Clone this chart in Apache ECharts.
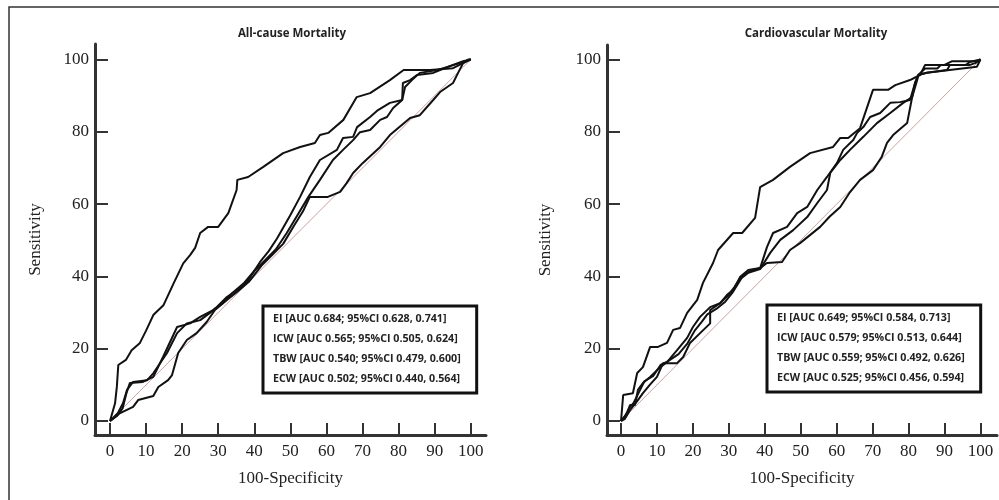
<!DOCTYPE html>
<html>
<head>
<meta charset="utf-8">
<script src="https://cdn.jsdelivr.net/npm/echarts@6/dist/echarts.min.js"></script>
<style>
  html, body { margin: 0; padding: 0; background: #fff; }
  #main { width: 999px; height: 500px; }
</style>
</head>
<body>
<div id="main"></div>
<script>
// panel titles
var panelTitles = ['All-cause Mortality', 'Cardiovascular Mortality'];
// markers, AUC and 95% CI per panel
var markers = ['EI', 'ICW', 'TBW', 'ECW'];
var aucAll = [0.684, 0.565, 0.540, 0.502];
var ciLowAll = [0.628, 0.505, 0.479, 0.440];
var ciHighAll = [0.741, 0.624, 0.600, 0.564];
var aucCv = [0.649, 0.579, 0.559, 0.525];
var ciLowCv = [0.584, 0.513, 0.492, 0.456];
var ciHighCv = [0.713, 0.644, 0.626, 0.594];
var tickValues = [0, 10, 20, 30, 40, 50, 60, 70, 80, 90, 100];
var yTickValues = [0, 20, 40, 60, 80, 100];
var diagonal = [[0, 0], [100, 100]];

// ROC points [100-Specificity, Sensitivity]
var allEI = [[0,0],[1.4,4.9],[1.9,9.5],[2.3,15.5],[4.4,16.9],[6,19.6],[8.3,21.6],[10,25],[12,29.3],[14.8,32],[17.6,38],[20.3,43.6],[22.2,45.9],[23.6,47.9],[25,52],[27.2,53.7],[30,53.7],[32.8,57.5],[35.1,63.9],[35.3,66.7],[38.3,67.5],[42.5,70.3],[48,74.1],[52.7,75.8],[56.8,76.9],[58.2,79.1],[60.5,79.7],[64.7,83.3],[68.4,89.6],[72.1,90.7],[77.6,94.3],[81.4,97.1],[88.7,97.1],[95.1,97.6],[97.9,99],[99.3,100],[100,100]];
var allICW = [[0,0],[2.2,2.2],[3.6,4.9],[4.7,8.6],[6.4,10.8],[10.3,11.3],[12,13.2],[15.8,18.8],[18.6,24.3],[21.3,27],[25,27.9],[27.7,29.9],[29.7,31.6],[32.4,34.3],[35.2,36.2],[38,38.5],[41.6,44],[44,47],[46.3,50.5],[49.9,56.8],[52.7,62],[55.4,67.5],[58.2,72.2],[62.9,75],[64.6,78.3],[67.4,78.6],[68.5,81.3],[72.1,84.1],[74.3,86],[77.6,88],[81,88.8],[81.2,93.5],[83.2,94.3],[85.1,95.7],[89.6,96.3],[91.5,97.1],[95.1,98.5],[97.9,99.5],[100,100]];
var allTBW = [[0,0],[2,1.5],[3.5,3.5],[4.5,7.5],[5.5,10.5],[9.1,10.8],[12,12.2],[14.7,17.7],[18.6,26],[22.2,27],[25,28.8],[28.6,30.7],[31.3,32.6],[34,35.5],[37,38],[40,41.5],[43,44.5],[46,47.5],[49,52],[52,57],[55,62],[58.2,66.7],[61.8,72.2],[64.6,75],[67.4,77.7],[69.3,79.9],[72.1,80.5],[74.9,83.3],[76.8,84.1],[78.5,86.6],[81,88.8],[81.8,92.4],[83.7,94.3],[85.9,96.3],[90.7,97.1],[93.4,97.9],[97,99],[100,100]];
var allECW = [[0,0],[2.8,2.2],[6.4,3.9],[7.8,5.8],[12,6.9],[13.4,9.4],[16.1,11.3],[17.2,12.7],[18.9,18.8],[21.3,22.4],[24,24.3],[26.8,27.4],[29.1,30.7],[32.4,33.5],[35.2,35.7],[38.5,38.5],[42,43],[45,46],[48,49],[51,54],[53.5,58],[55.4,62],[60.4,62],[63.8,63.4],[65.6,65.8],[67.4,68.6],[70.1,71.4],[74.9,75.8],[77.6,79.1],[83.2,83.8],[85.9,84.6],[89.6,88.8],[91.5,91],[95.1,93.5],[96.5,96.3],[97.9,99],[100,100]];

var cvEI = [[0,0],[0.2,0.3],[0.6,7.2],[3.3,7.7],[4.5,13.3],[6.1,14.9],[8.1,20.5],[10.3,20.5],[12.8,21.6],[14.5,25.2],[16.4,25.7],[18.4,29.9],[21.2,33.5],[22.8,38.2],[25.6,43.7],[27,47.3],[31.2,52],[33.7,52],[37.3,56.2],[38.7,64.7],[42.3,66.7],[47,70.3],[52.6,74.1],[59,75.8],[61,78.3],[63.2,78.3],[66.5,81],[70.1,91.6],[74.3,91.6],[76.3,92.9],[80.4,94.3],[83.2,95.7],[84.6,98.5],[90,98.5],[92,99.5],[99,99.5],[99.2,100],[100,100]];
var cvICW = [[0,0],[1.7,2.2],[2.5,4.4],[3.9,4.4],[4.7,8.6],[6.1,10.5],[8.1,12.2],[10.9,14.9],[12.8,16.3],[15.6,19.6],[18.4,23],[20,26],[22,28.8],[24.8,31.5],[27.6,32.6],[29.5,34.9],[31.2,36.2],[33.1,39.8],[35.4,41.8],[38.7,42.3],[40.6,48.1],[42.3,52],[46.2,53.7],[49,57.5],[51.8,59.2],[54.6,63.9],[57.3,67.5],[60.1,71.4],[61.8,75],[64.6,77.7],[65.7,79.7],[67.4,81.3],[69.3,84.1],[72.1,85.2],[74.9,88],[77.6,88.2],[80.4,88.8],[81.8,93.5],[82.7,95.7],[85.1,96.3],[90.7,97.1],[91.5,98.5],[97.1,98.5],[98.5,99],[100,100]];
var cvTBW = [[0,0],[1.2,1.5],[2.2,3.5],[3.5,5],[5,8],[6.5,11],[9,12.5],[11,15.5],[13,16.5],[16,18.5],[18.5,21.5],[20.5,25],[22.5,27.5],[24,29.5],[26.5,31],[29,33],[31,35.5],[33.5,39.5],[35.4,41],[38.7,42],[41.5,46.5],[44.3,50.1],[47.9,52.8],[51.8,56.4],[54.6,60.3],[57.3,63.9],[58.2,68.6],[61,72.2],[63.7,75],[67.4,78.6],[71.2,82.4],[74.9,85.2],[78.5,88],[81,89.6],[81.8,93.5],[82.7,95.7],[84.6,97.5],[88,97.5],[89,98.5],[96,98.5],[97,99.3],[100,100]];
var cvECW = [[0,0],[1,0.5],[2.5,3],[4.5,5.5],[6.1,7.7],[8,10],[10,12.2],[11.7,16],[15.6,16],[17.3,17.7],[19.2,21.6],[22,24.3],[24.8,27],[24.8,30.7],[27.6,32.6],[30,35],[31.5,37],[33.5,40],[36,41.5],[38.7,42.3],[40.6,43.7],[44.8,44],[47,47.3],[49.8,49.2],[55.4,53.7],[58,56.5],[61,59.2],[63.5,63],[66.5,66.7],[70.1,69.4],[72.5,73],[74,76.9],[75.7,79.1],[79.6,82.4],[81,89.6],[82.4,94.3],[82.7,95.7],[85,96.3],[99,98],[100,100]];

var serif = '"Liberation Serif", "DejaVu Serif", serif';
var sans = '"Open Sans", "Noto Sans", sans-serif';

function labelText(m, auc, lo, hi) {
  return m + ' [AUC ' + auc.toFixed(3) + '; 95%CI ' + lo.toFixed(3) + ', ' + hi.toFixed(3) + ']';
}

var namesAll = markers.map(function (m, i) { return labelText(m, aucAll[i], ciLowAll[i], ciHighAll[i]); });
var namesCv = markers.map(function (m, i) { return labelText(m, aucCv[i], ciLowCv[i], ciHighCv[i]); });
var curvesAll = [allEI, allICW, allTBW, allECW];
var curvesCv = [cvEI, cvICW, cvTBW, cvECW];

function makeX(idx, min, max) {
  return {
    type: 'value', gridIndex: idx, min: min, max: max,
    name: '100-Specificity', nameLocation: 'middle', nameGap: 35,
    nameTextStyle: { fontFamily: serif, fontSize: 17, color: '#222' },
    axisLine: { show: true, onZero: false, lineStyle: { color: '#333', width: 3 } },
    axisTick: { show: true, inside: true, length: 12, customValues: tickValues, lineStyle: { color: '#333', width: 2 } },
    axisLabel: { customValues: tickValues, margin: 8, fontFamily: serif, fontSize: 17, color: '#222' },
    splitLine: { show: false }
  };
}

function makeY(idx, min, max, gap) {
  return {
    type: 'value', gridIndex: idx, min: min, max: max,
    name: 'Sensitivity', nameLocation: 'middle', nameGap: gap,
    nameTextStyle: { fontFamily: serif, fontSize: 17, color: '#222' },
    axisLine: { show: true, onZero: false, lineStyle: { color: '#333', width: 3 } },
    axisTick: { show: true, inside: true, length: 13, customValues: yTickValues, lineStyle: { color: '#333', width: 2 } },
    axisLabel: { customValues: yTickValues, margin: 6, fontFamily: serif, fontSize: 17, color: '#222' },
    splitLine: { show: false }
  };
}

function makeLegend(names, left, top) {
  return {
    data: names, orient: 'vertical', left: left, top: top,
    itemWidth: 0, itemHeight: 0, itemGap: 6, icon: 'rect',
    itemStyle: { opacity: 0 }, lineStyle: { opacity: 0 },
    padding: [6, 16, 7, 5],
    borderColor: '#111', borderWidth: 3, backgroundColor: '#fff',
    selectedMode: false,
    textStyle: { fontFamily: sans, fontWeight: 'bold', fontSize: 10.7, lineHeight: 14, color: '#222' }
  };
}

var series = [];
function addPanel(idx, names, curves) {
  series.push({
    type: 'line', xAxisIndex: idx, yAxisIndex: idx, data: diagonal,
    showSymbol: false, silent: true, lineStyle: { color: '#c9a3a3', width: 1 }, z: 1
  });
  curves.forEach(function (c, i) {
    series.push({
      type: 'line', name: names[i], xAxisIndex: idx, yAxisIndex: idx, data: c,
      showSymbol: false, color: '#111', lineStyle: { color: '#111', width: 2 }, z: 3
    });
  });
}
addPanel(0, namesAll, curvesAll);
addPanel(1, namesCv, curvesCv);

var myChart = echarts.init(document.getElementById('main'));
myChart.setOption({
  animation: false,
  backgroundColor: '#fff',
  grid: [
    { left: 95, top: 44, width: 391, height: 391, outerBoundsMode: 'none' },
    { left: 607, top: 45, width: 390, height: 390, outerBoundsMode: 'none' }
  ],
  xAxis: [makeX(0, -4.16, 104.24), makeX(1, -3.9, 104.6)],
  yAxis: [makeY(0, -3.87, 104.29, 51), makeY(1, -3.87, 104.0, 53)],
  legend: [makeLegend(namesAll, 263, 306), makeLegend(namesCv, 767, 305)],
  graphic: [
    { type: 'rect', shape: { x: 9, y: 7, width: 1000, height: 500 }, style: { fill: 'none', stroke: '#333', lineWidth: 1.5 }, silent: true },
    { type: 'text', x: 292, y: 34, style: { text: panelTitles[0], align: 'center', verticalAlign: 'middle', font: 'bold 11.5px ' + sans, fill: '#222' } },
    { type: 'text', x: 816, y: 34, style: { text: panelTitles[1], align: 'center', verticalAlign: 'middle', font: 'bold 11.5px ' + sans, fill: '#222' } }
  ],
  series: series
});
</script>
</body>
</html>
